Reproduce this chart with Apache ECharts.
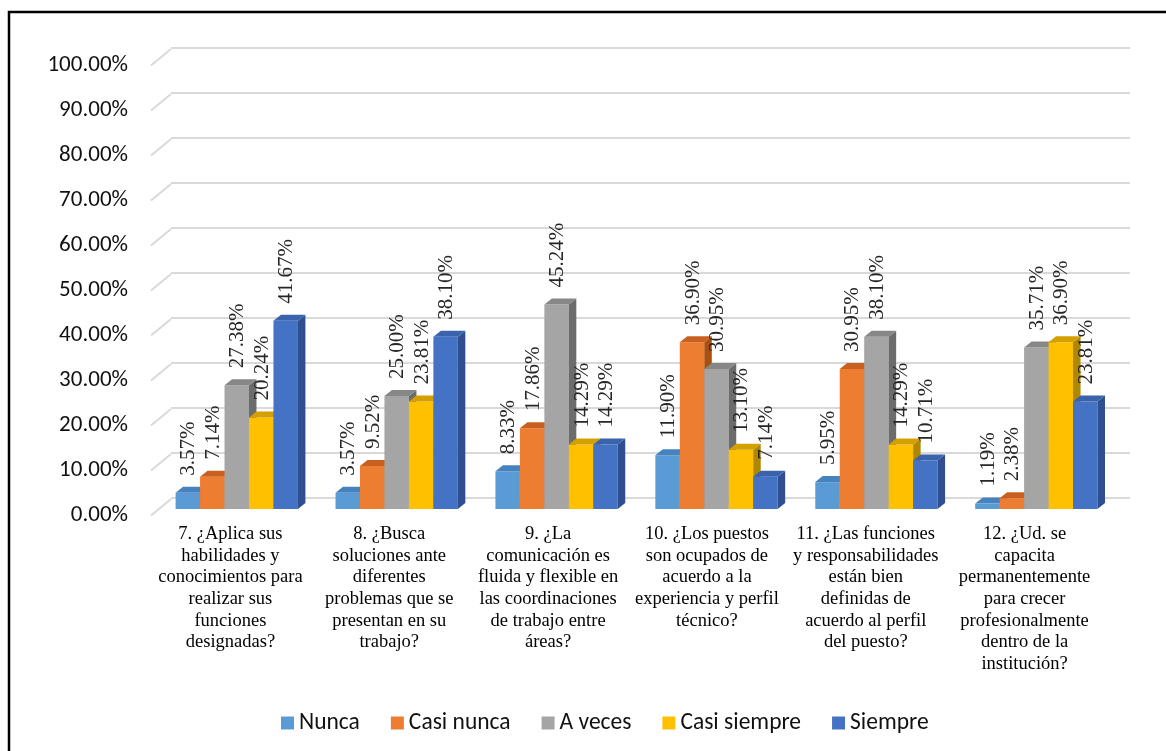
<!DOCTYPE html>
<html>
<head>
<meta charset="utf-8">
<script src="https://cdn.jsdelivr.net/npm/echarts@6/dist/echarts.min.js"></script>
<style>
  html, body { margin: 0; padding: 0; background: #fff; }
  #chart-div { width: 1166px; height: 751px; }
</style>
</head>
<body>
<div id="chart-div"></div>
<script>
// preguntas (categorías)
const preguntas = [
    '7. ¿Aplica sus\nhabilidades y\nconocimientos para\nrealizar sus\nfunciones\ndesignadas?',
    '8. ¿Busca\nsoluciones ante\ndiferentes\nproblemas que se\npresentan en su\ntrabajo?',
    '9. ¿La\ncomunicación es\nfluida y flexible en\nlas coordinaciones\nde trabajo entre\náreas?',
    '10. ¿Los puestos\nson ocupados de\nacuerdo a la\nexperiencia y perfil\ntécnico?',
    '11. ¿Las funciones\ny responsabilidades\nestán bien\ndefinidas de\nacuerdo al perfil\ndel puesto?',
    '12. ¿Ud. se\ncapacita\npermanentemente\npara crecer\nprofesionalmente\ndentro de la\ninstitución?'
]

const respuestas = ['Nunca', 'Casi nunca', 'A veces', 'Casi siempre', 'Siempre']

// porcentajes por respuesta
const nunca = [3.57, 3.57, 8.33, 11.90, 5.95, 1.19]
const casiNunca = [7.14, 9.52, 17.86, 36.90, 30.95, 2.38]
const aVeces = [27.38, 25.00, 45.24, 30.95, 38.10, 35.71]
const casiSiempre = [20.24, 23.81, 14.29, 13.10, 14.29, 36.90]
const siempre = [41.67, 38.10, 14.29, 7.14, 10.71, 23.81]

const valores = [nunca, casiNunca, aVeces, casiSiempre, siempre]

// marcas del eje y
const yTicks = [0, 10, 20, 30, 40, 50, 60, 70, 80, 90, 100]

const colFrente = ['#5B9BD5', '#ED7D31', '#A5A5A5', '#FFC000', '#4472C4']
const colTecho = ['#4682BE', '#C9601F', '#878787', '#D4A000', '#3A63AC']
const colLado = ['#3A6E9E', '#A9500F', '#6C6C6C', '#B08700', '#2E5090']

const FONDO_X = 7.5 // profundidad de la barra
const FONDO_Y = 6

let myChart = echarts.init(document.getElementById('chart-div'))

function barra3d(si) {
    return function (params, api) {
        const base = api.coord([api.value(0), 0])
        const tope = api.coord([api.value(0), api.value(1)])
        const banda = api.size([1, 0])[0]
        const w = banda * 0.153
        const x0 = base[0] + (si - 2.5) * w
        const x1 = x0 + w
        const yb = base[1], yt = tope[1]
        return {
            type: 'group',
            children: [
                { type: 'rect', shape: { x: x0, y: yt, width: w, height: yb - yt }, style: { fill: colFrente[si] } },
                { type: 'polygon', shape: { points: [[x1, yb], [x1, yt], [x1 + FONDO_X, yt - FONDO_Y], [x1 + FONDO_X, yb - FONDO_Y]] }, style: { fill: colLado[si] } },
                { type: 'polygon', shape: { points: [[x0, yt], [x1, yt], [x1 + FONDO_X, yt - FONDO_Y], [x0 + FONDO_X, yt - FONDO_Y]] }, style: { fill: colTecho[si] } },
                {
                    type: 'text', x: (x0 + x1) / 2 + 1, y: yt - 17, rotation: Math.PI / 2, z2: 100,
                    style: {
                        text: api.value(1).toFixed(2) + '%', align: 'left', verticalAlign: 'middle',
                        fontFamily: 'Liberation Serif', fontSize: 21, fill: '#262626'
                    }
                }
            ]
        }
    }
}

const series = [{
    // diagonales del piso a la izquierda
    type: 'custom', xAxisIndex: 1, yAxisIndex: 1, z: 1, silent: true,
    data: yTicks.map(v => [0, v]),
    renderItem: function (params, api) {
        const p = api.coord([0, api.value(1)])
        const x0 = p[0] - api.size([1, 0])[0] / 2
        return { type: 'line', shape: { x1: x0, y1: p[1], x2: x0 + 20, y2: p[1] - 16.5 }, style: { stroke: '#d9d9d9', lineWidth: 2 } }
    }
}]

respuestas.forEach(function (nombre, i) {
    series.push({
        name: nombre, type: 'custom', xAxisIndex: 2, yAxisIndex: 2,
        itemStyle: { color: colFrente[i] },
        encode: { x: 0, y: 1 },
        data: valores[i].map((v, k) => [k, v]),
        renderItem: barra3d(i)
    })
})

const fuenteEje = 'Carlito, Lato, sans-serif'

const option = {
    backgroundColor: '#fff',
    animation: false,
    graphic: [{
        type: 'rect', silent: true,
        shape: { x: 9, y: 12, width: 1200, height: 800 },
        style: { fill: null, stroke: '#000', lineWidth: 2.5 }
    }],
    legend: {
        data: respuestas, left: 276, top: 706,
        icon: 'rect', itemWidth: 13, itemHeight: 13, itemGap: 31,
        textStyle: { fontFamily: fuenteEje, fontSize: 23.5, color: '#111' }
    },
    grid: [
        { left: 171, top: 48, width: 959, height: 450 },     // pared del fondo
        { left: 151, top: 65.5, width: 953, height: 450 },   // plano frontal (etiquetas)
        { left: 156.8, top: 57, width: 959.5, height: 452 }  // barras
    ],
    xAxis: [
        { gridIndex: 0, type: 'category', data: preguntas, show: false },
        {
            gridIndex: 1, type: 'category', data: preguntas,
            axisLine: { show: false }, axisTick: { show: false },
            axisLabel: { interval: 0, margin: 8, fontFamily: 'Liberation Serif', fontSize: 18.5, lineHeight: 21.6, color: '#000' }
        },
        { gridIndex: 2, type: 'category', data: preguntas, show: false }
    ],
    yAxis: [
        {
            gridIndex: 0, type: 'value', min: 0, max: 100, interval: 10,
            axisLabel: { show: false }, axisLine: { show: false }, axisTick: { show: false },
            splitLine: { lineStyle: { color: '#d9d9d9', width: 2 } }
        },
        {
            gridIndex: 1, type: 'value', min: 0, max: 100, interval: 10,
            axisLine: { show: false }, axisTick: { show: false }, splitLine: { show: false },
            axisLabel: { margin: 23, fontFamily: fuenteEje, fontSize: 23, color: '#111', formatter: v => v.toFixed(2) + '%' }
        },
        { gridIndex: 2, type: 'value', min: 0, max: 100, show: false, splitLine: { show: false } }
    ],
    series: series
}

myChart.setOption(option)
</script>
</body>
</html>
